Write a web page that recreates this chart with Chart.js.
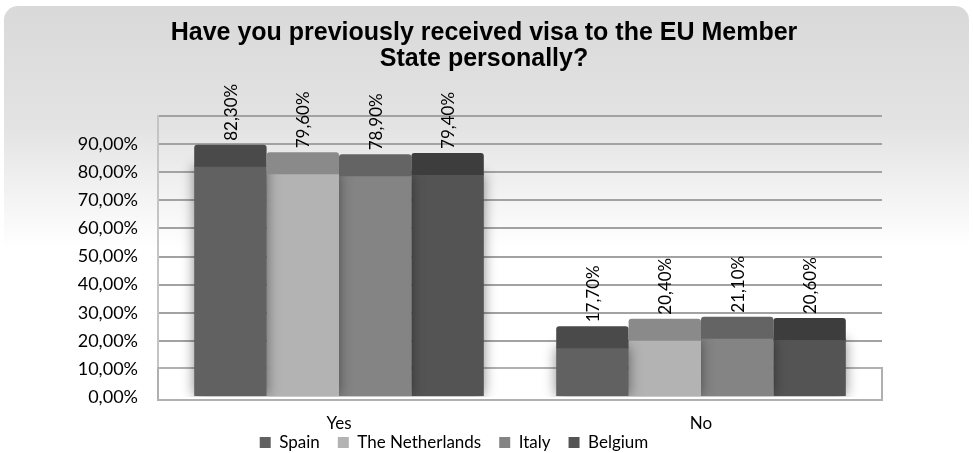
<!DOCTYPE html>
<html>
<head>
<meta charset="utf-8">
<script src="https://cdn.jsdelivr.net/npm/chart.js@4.4.0/dist/chart.umd.min.js"></script>
<style>
  html, body { margin: 0; padding: 0; background: #fff; }
</style>
</head>
<body>
<canvas id="visaChart" width="973" height="453"></canvas>
<script>
const categories = ['Yes', 'No'];
const countries = ['Spain', 'The Netherlands', 'Italy', 'Belgium'];
const spain = [0.823, 0.177];
const netherlands = [0.796, 0.204];
const italy = [0.789, 0.211];
const belgium = [0.794, 0.206];
const yTicks = [0, 0.1, 0.2, 0.3, 0.4, 0.5, 0.6, 0.7, 0.8, 0.9, 1.0];
const titleLines = ['Have you previously received visa to the EU Member', 'State personally?'];

const frontColors = ['#616161', '#b3b3b3', '#848484', '#545454'];
const topColors = ['#4a4a4a', '#8a8a8a', '#646464', '#3d3d3d'];
const CAP = 21;

const pct = v => (v * 100).toFixed(2).replace('.', ',') + '%';

// grey rounded panel fading to white, with the title on top
const panel = {
  id: 'panel',
  beforeDraw(chart) {
    const ctx = chart.ctx;
    ctx.save();
    ctx.fillStyle = '#fff';
    ctx.fillRect(0, 0, chart.width, chart.height);
    const g = ctx.createLinearGradient(0, 6, 0, 248);
    g.addColorStop(0, '#d9d9d9');
    g.addColorStop(0.5, '#e3e3e3');
    g.addColorStop(1, '#ffffff');
    ctx.fillStyle = g;
    ctx.beginPath();
    ctx.roundRect(4, 6, chart.width - 8, chart.height + 20, 14);
    ctx.fill();

    ctx.fillStyle = '#000';
    ctx.font = 'bold 25px "Liberation Sans"';
    ctx.textAlign = 'center';
    ctx.textBaseline = 'alphabetic';
    titleLines.forEach((t, i) => ctx.fillText(t, 484, 40 + i * 26));
    ctx.restore();
  }
};

// floor slab under the bars; bars get a soft shadow onto it
const floor = {
  id: 'floor',
  beforeDatasetsDraw(chart) {
    const { ctx, chartArea: a } = chart;
    ctx.save();
    ctx.fillStyle = '#fff';
    ctx.fillRect(a.left, a.bottom - 29, a.right - a.left, 32);
    ctx.strokeStyle = '#b0b0b0';
    ctx.lineWidth = 2;
    ctx.strokeRect(a.left, a.bottom - 29, a.right - a.left, 32);
    ctx.shadowColor = 'rgba(0, 0, 0, 0.45)';
    ctx.shadowBlur = 12;
  },
  afterDatasetsDraw(chart) {
    chart.ctx.restore();
  }
};

// darker top face on each bar plus rotated value labels
const barTops = {
  id: 'barTops',
  afterDatasetsDraw(chart) {
    const ctx = chart.ctx;
    ctx.save();
    chart.data.datasets.forEach((ds, i) => {
      chart.getDatasetMeta(i).data.forEach((bar, j) => {
        const w = bar.width;
        ctx.fillStyle = topColors[i];
        ctx.beginPath();
        ctx.roundRect(bar.x - w / 2, bar.y - CAP, w, CAP + 1, [3, 3, 0, 0]);
        ctx.fill();
        ctx.save();
        ctx.translate(bar.x + 1, bar.y - CAP - 4);
        ctx.rotate(-Math.PI / 2);
        ctx.fillStyle = '#000';
        ctx.font = '17px Lato';
        ctx.textAlign = 'left';
        ctx.textBaseline = 'middle';
        ctx.fillText(pct(ds.data[j]), 0, 0);
        ctx.restore();
      });
    });
    ctx.restore();
  }
};

const series = [spain, netherlands, italy, belgium];

new Chart(document.getElementById('visaChart'), {
  type: 'bar',
  data: {
    labels: categories,
    datasets: series.map((d, i) => ({
      label: countries[i],
      data: d,
      backgroundColor: frontColors[i],
      borderWidth: 0,
      categoryPercentage: 0.8,
      barPercentage: 1.0
    }))
  },
  options: {
    responsive: false,
    animation: false,
    layout: { padding: { left: 26, right: 91, top: 116, bottom: 0 } },
    plugins: {
      title: { display: false },
      legend: {
        position: 'bottom',
        maxHeight: 37,
        labels: {
          color: '#000',
          font: { family: 'Lato', size: 17 },
          boxWidth: 11,
          boxHeight: 11,
          padding: 18
        }
      },
      tooltip: { enabled: false }
    },
    scales: {
      x: {
        grid: { display: false },
        border: { display: false },
        // mirrored with negative padding so the labels sit low, next to the legend
        ticks: { color: '#000', font: { family: 'Lato', size: 17 }, mirror: true, padding: -37 },
        afterFit(s) { s.height = 19; }
      },
      y: {
        min: 0,
        max: 1,
        afterBuildTicks(s) { s.ticks = yTicks.map(v => ({ value: v })); },
        ticks: {
          color: '#000',
          font: { family: 'Lato', size: 18 },
          padding: 20,
          callback: v => (v >= 0.999 ? '' : pct(v))
        },
        grid: { color: '#a2a2a2', lineWidth: 2, drawTicks: false },
        border: { color: '#c4c4c4', width: 2 },
        afterFit(s) { s.width = 132; }
      }
    }
  },
  plugins: [panel, floor, barTops]
});
</script>
</body>
</html>
